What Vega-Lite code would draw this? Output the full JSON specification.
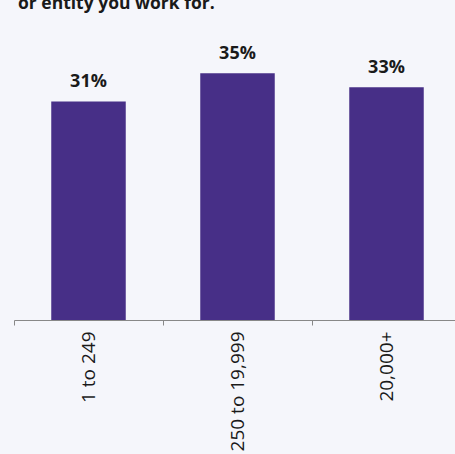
{
  "$schema": "https://vega.github.io/schema/vega-lite/v6.json",
  "background": "#f5f6fb",
  "padding": {"top": -6, "left": 5, "right": 0, "bottom": 40},
  "width": 447,
  "height": 282,
  "title": {
    "text": "or entity you work for.",
    "anchor": "start",
    "frame": "group",
    "dx": 4,
    "offset": 26,
    "font": "Open Sans",
    "fontSize": 17.5,
    "fontWeight": "bold",
    "color": "#1a1a1a"
  },
  "data": {
    "values": [
      {"size": "1 to 249", "pct": 0.31},
      {"size": "250 to 19,999", "pct": 0.35},
      {"size": "20,000+", "pct": 0.33}
    ]
  },
  "encoding": {
    "x": {
      "field": "size",
      "type": "nominal",
      "sort": null,
      "scale": {"paddingInner": 0, "paddingOuter": 0},
      "axis": {
        "title": null,
        "labelAngle": -90,
        "labelAlign": "right",
        "labelBaseline": "middle",
        "labelFont": "Open Sans",
        "labelFontSize": 19,
        "labelColor": "#1a1a1a",
        "labelPadding": 6,
        "tickBand": "extent",
        "tickSize": 5,
        "tickColor": "#888888",
        "domainColor": "#888888",
        "grid": false
      }
    },
    "y": {
      "field": "pct",
      "type": "quantitative",
      "scale": {"domain": [0, 0.4]},
      "axis": null
    }
  },
  "layer": [
    {
      "mark": {"type": "bar", "color": "#472f87", "width": {"band": 0.5}}
    },
    {
      "mark": {
        "type": "text",
        "baseline": "alphabetic",
        "dy": -14,
        "font": "Open Sans",
        "fontSize": 18,
        "fontWeight": "bold",
        "color": "#1a1a1a"
      },
      "encoding": {
        "text": {"field": "pct", "type": "quantitative", "format": ".0%"}
      }
    }
  ],
  "config": {"view": {"stroke": null}}
}
